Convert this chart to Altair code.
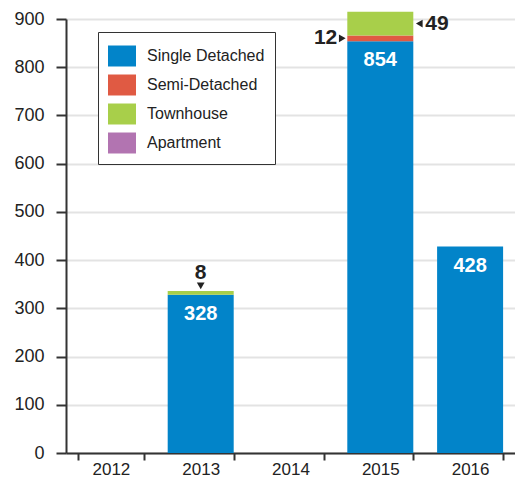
import altair as alt
import pandas as pd

years = ["2012", "2013", "2014", "2015", "2016"]
types = ["Single Detached", "Semi-Detached", "Townhouse", "Apartment"]
colors = ["#0284c9", "#e05a43", "#a8cf4a", "#b274b1"]
single = [0, 328, 0, 854, 428]
semi = [0, 0, 0, 12, 0]
town = [0, 8, 0, 49, 0]
apart = [0, 0, 0, 0, 0]
y_ticks = [0, 100, 200, 300, 400, 500, 600, 700, 800, 900]

FONT = "Liberation Sans, Arial, sans-serif"

rows = []
for i, y in enumerate(years):
    for t, vals in zip(types, [single, semi, town, apart]):
        rows.append({"year": y, "type": t, "value": vals[i], "order": types.index(t)})
df = pd.DataFrame(rows)

x = alt.X("year:N", sort=years, title=None,
          scale=alt.Scale(domain=years, paddingInner=0.265, paddingOuter=0.1325),
          axis=alt.Axis(labelAngle=0, labelFont=FONT, labelFontSize=17, labelColor="#222",
                        tickBand="extent", tickSize=7, tickColor="#333", tickWidth=2,
                        domainColor="#333", domainWidth=2, labelPadding=1, grid=False))

bars = alt.Chart(df).mark_bar().encode(
    x=x,
    y=alt.Y("sum(value):Q", title=None,
            scale=alt.Scale(domain=[0, 900], nice=False, zero=True),
            axis=alt.Axis(values=y_ticks, labelFont=FONT, labelFontSize=18, labelColor="#222",
                          tickSize=10, tickColor="#333", tickWidth=2, domainColor="#333",
                          domainWidth=2, gridColor="#e3e3e3", gridWidth=2, labelPadding=12)),
    color=alt.Color("type:N", sort=types,
                    scale=alt.Scale(domain=types, range=colors),
                    legend=alt.Legend(title=None, orient="none", legendX=32, legendY=13,
                                      symbolType="M-1,-0.75H1V0.75H-1Z", symbolSize=784,
                                      symbolStrokeWidth=0, symbolOpacity=1,
                                      labelFont=FONT, labelFontSize=16, labelColor="#222",
                                      labelOffset=11, rowPadding=4, padding=10,
                                      strokeColor="#333", fillColor="white",
                                      labelLimit=300)),
    order=alt.Order("order:Q"),
)

# value labels inside bars
val_years = ["2013", "2015", "2016"]
val_values = [328, 854, 428]
vdf = pd.DataFrame({"year": val_years, "v": val_values, "t": [str(v) for v in val_values]})
val_text = alt.Chart(vdf).mark_text(font=FONT, fontSize=20, fontWeight="bold", color="white",
                                    baseline="middle", dy=19).encode(
    x=alt.X("year:N", sort=years), y=alt.Y("v:Q"), text="t:N")

# annotation "8" above 2013
a1 = pd.DataFrame({"year": ["2013"], "v": [336], "t": ["8"]})
a1_text = alt.Chart(a1).mark_text(font=FONT, fontSize=21, fontWeight="bold", color="#222",
                                  baseline="middle", dy=-18).encode(
    x=alt.X("year:N", sort=years), y="v:Q", text="t:N")
a1_tri = alt.Chart(a1).mark_point(shape="triangle-down", filled=True, color="#222", size=60,
                                  opacity=1, yOffset=-5).encode(
    x=alt.X("year:N", sort=years), y="v:Q")

# annotation "12" left of 2015 semi segment
a2 = pd.DataFrame({"year": ["2015"], "v": [860], "t": ["12"]})
a2_text = alt.Chart(a2).mark_text(font=FONT, fontSize=21, fontWeight="bold", color="#222",
                                  baseline="middle", align="right", dx=-43).encode(
    x=alt.X("year:N", sort=years), y="v:Q", text="t:N")
a2_tri = alt.Chart(a2).mark_point(shape="triangle-right", filled=True, color="#222", size=60,
                                  opacity=1, xOffset=-38).encode(
    x=alt.X("year:N", sort=years), y="v:Q")

# annotation "49" right of 2015 townhouse segment
a3 = pd.DataFrame({"year": ["2015"], "v": [890.5], "t": ["49"]})
a3_text = alt.Chart(a3).mark_text(font=FONT, fontSize=21, fontWeight="bold", color="#222",
                                  baseline="middle", align="left", dx=45).encode(
    x=alt.X("year:N", sort=years), y="v:Q", text="t:N")
a3_tri = alt.Chart(a3).mark_point(shape="triangle-left", filled=True, color="#222", size=60,
                                  opacity=1, xOffset=39).encode(
    x=alt.X("year:N", sort=years), y="v:Q")

chart = alt.layer(bars, val_text, a1_text, a1_tri, a2_text, a2_tri, a3_text, a3_tri).properties(
    width=449, height=434,
    autosize=alt.AutoSizeParams(type="none"),
    padding={"left": 58, "top": 11, "right": 0, "bottom": 28},
).configure_view(stroke=None).configure(background="white")

chart.save("out.html", embed_options={"renderer": "svg", "actions": False})
